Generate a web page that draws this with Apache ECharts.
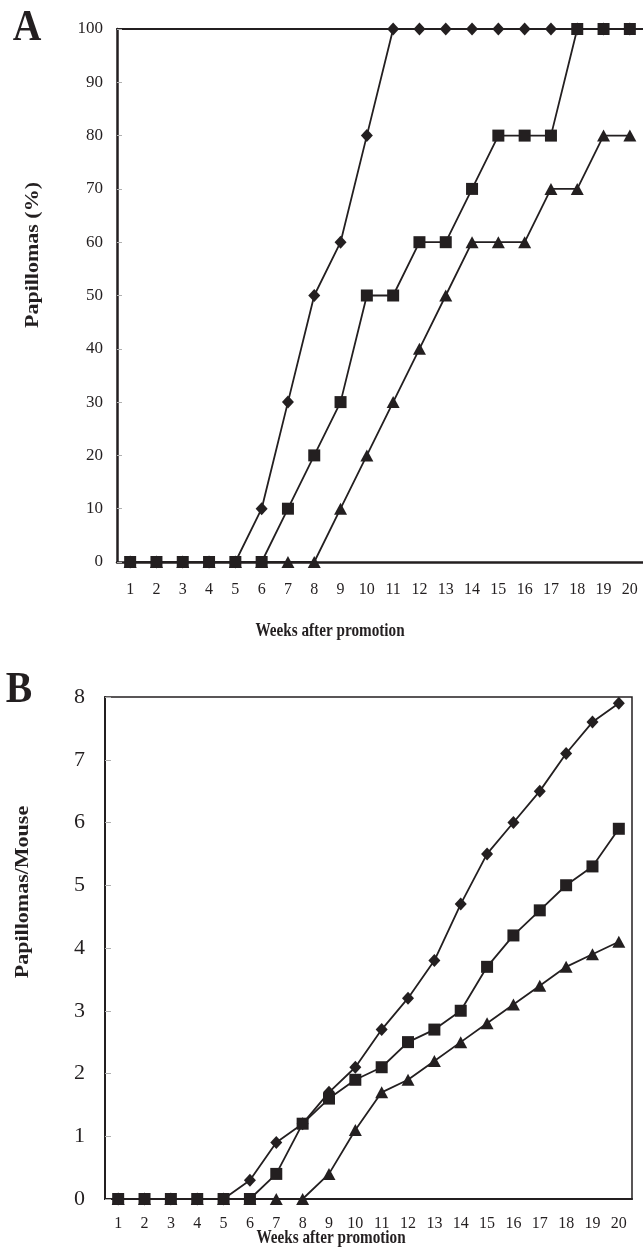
<!DOCTYPE html>
<html>
<head>
<meta charset="utf-8">
<script src="https://cdn.jsdelivr.net/npm/echarts@6/dist/echarts.min.js"></script>
<style>
	html, body { margin: 0; padding: 0; background: #fff; }
	#chart { width: 643px; height: 1253px; }
</style>
</head>
<body>
<div id="chart"></div>
<script>
	// weeks after promotion
	var weeks = ['1','2','3','4','5','6','7','8','9','10','11','12','13','14','15','16','17','18','19','20'];

	// panel A: papillomas incidence (%)
	var incDiamond  = [0,0,0,0,0,10,30,50,60,80,100,100,100,100,100,100,100,100,100,100];
	var incSquare   = [0,0,0,0,0,0,10,20,30,50,50,60,60,70,80,80,80,100,100,100];
	var incTriangle = [0,0,0,0,0,0,0,0,10,20,30,40,50,60,60,60,70,70,80,80];

	// panel B: papillomas per mouse
	var perDiamond  = [0,0,0,0,0,0.3,0.9,1.2,1.7,2.1,2.7,3.2,3.8,4.7,5.5,6.0,6.5,7.1,7.6,7.9];
	var perSquare   = [0,0,0,0,0,0,0.4,1.2,1.6,1.9,2.1,2.5,2.7,3.0,3.7,4.2,4.6,5.0,5.3,5.9];
	var perTriangle = [0,0,0,0,0,0,0,0,0.4,1.1,1.7,1.9,2.2,2.5,2.8,3.1,3.4,3.7,3.9,4.1];

	var ink = '#231f20';
	var serif = 'Liberation Serif';

	function line(name, data, symbol, size, xi, yi) {
		return {
			name: name,
			type: 'line',
			xAxisIndex: xi,
			yAxisIndex: yi,
			data: data,
			symbol: symbol,
			symbolSize: size,
			showAllSymbol: true,
			lineStyle: { color: ink, width: 1.8 },
			itemStyle: { color: ink },
			animation: false
		};
	}

	function catAxis(grid, labelSize, margin) {
		return {
			type: 'category',
			gridIndex: grid,
			data: weeks,
			boundaryGap: true,
			axisLine: { lineStyle: { color: ink, width: grid == 0 ? 2.5 : 2 } },
			axisTick: { inside: true, length: 5, lineStyle: { color: '#b0b0b0' } },
			axisLabel: { color: ink, fontFamily: serif, fontSize: labelSize, margin: margin },
			splitLine: { show: false }
		};
	}

	// condensed text, the original figure is squeezed horizontally
	function label(text, x, y, size, rotate) {
		return {
			type: 'text', x: x, y: y,
			rotation: rotate ? Math.PI / 2 : 0,
			scaleX: rotate ? 1 : 0.8,
			scaleY: rotate ? 0.82 : 1,
			style: { text: text, font: 'bold ' + size + 'px "Liberation Serif"', fill: ink, textAlign: 'center', textVerticalAlign: 'middle' }
		};
	}

	var chart = echarts.init(document.getElementById('chart'));
	var chartOption = {
		backgroundColor: '#fff',
		grid: [
			{ left: 117, top: 29, width: 526, height: 533 },
			{ left: 105, top: 697, width: 527, height: 502, show: true, borderColor: ink, borderWidth: 1.5 }
		],
		xAxis: [
			catAxis(0, 16, 20),
			{
				type: 'category', gridIndex: 0, position: 'top', data: weeks,
				axisLine: { lineStyle: { color: ink, width: 2 } },
				axisTick: { show: false }, axisLabel: { show: false }
			},
			catAxis(1, 16, 17)
		],
		yAxis: [
			{
				type: 'value', gridIndex: 0, min: 0, max: 100, interval: 10,
				axisLine: { show: true, lineStyle: { color: ink, width: 2.5 } },
				axisTick: { show: true, inside: true, length: 5, lineStyle: { color: '#b0b0b0' } },
				axisLabel: { color: ink, fontFamily: serif, fontSize: 17, margin: 14 },
				splitLine: { show: false }
			},
			{
				type: 'value', gridIndex: 1, min: 0, max: 8, interval: 1,
				axisLine: { show: true, lineStyle: { color: ink, width: 2 } },
				axisTick: { show: true, inside: true, length: 6, lineStyle: { color: '#b0b0b0' } },
				axisLabel: { color: ink, fontFamily: serif, fontSize: 22, margin: 20 },
				splitLine: { show: false }
			}
		],
		series: [
			line('triangle A', incTriangle, 'triangle', [13, 12], 0, 0),
			line('diamond A', incDiamond, 'diamond', [12, 13], 0, 0),
			line('square A', incSquare, 'rect', 12, 0, 0),
			line('triangle B', perTriangle, 'triangle', [13, 12], 2, 1),
			line('diamond B', perDiamond, 'diamond', [12, 13], 2, 1),
			line('square B', perSquare, 'rect', 12, 2, 1)
		],
		graphic: [
			{ type: 'text', x: 27, y: 29, scaleX: 0.9, style: { text: 'A', font: 'bold 44px "Liberation Serif"', fill: ink, textAlign: 'center', textVerticalAlign: 'middle' } },
			{ type: 'text', x: 19, y: 691, scaleX: 0.9, style: { text: 'B', font: 'bold 44px "Liberation Serif"', fill: ink, textAlign: 'center', textVerticalAlign: 'middle' } },
			label('Papillomas (%)', 33, 255, 22, true),
			label('Papillomas/Mouse', 23, 892, 22, true),
			label('Weeks after promotion', 330, 631, 19, false),
			label('Weeks after promotion', 331, 1238, 19, false)
		]
	};
	chart.setOption(chartOption);
</script>
</body>
</html>
